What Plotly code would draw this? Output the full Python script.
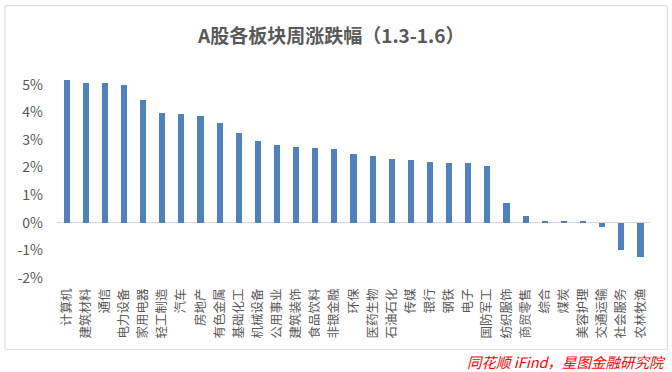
import plotly.graph_objects as go

categories = ["计算机", "建筑材料", "通信", "电力设备", "家用电器", "轻工制造", "汽车", "房地产",
              "有色金属", "基础化工", "机械设备", "公用事业", "建筑装饰", "食品饮料", "非银金融",
              "环保", "医药生物", "石油石化", "传媒", "银行", "钢铁", "电子", "国防军工",
              "纺织服饰", "商贸零售", "综合", "煤炭", "美容护理", "交通运输", "社会服务", "农林牧渔"]
changes_pct = [5.18, 5.07, 5.07, 4.97, 4.46, 3.96, 3.92, 3.88,
               3.60, 3.24, 2.95, 2.81, 2.73, 2.70, 2.66,
               2.48, 2.41, 2.30, 2.27, 2.19, 2.16, 2.16, 2.05,
               0.72, 0.26, 0.04, 0.04, 0.04, -0.17, -0.99, -1.24]
ytick_vals = [-2, -1, 0, 1, 2, 3, 4, 5]
ytick_text = ["-2%", "-1%", "0%", "1%", "2%", "3%", "4%", "5%"]

title_text = "A股各板块周涨跌幅（1.3-1.6）"
source_text = "同花顺 iFind，星图金融研究院"

FONT = "Noto Sans CJK SC, Microsoft YaHei, sans-serif"
GRAY = "#595959"

fig = go.Figure(go.Bar(
    x=categories, y=changes_pct, width=0.32,
    marker=dict(color="#4F81BD", line=dict(width=0)),
))

W, H = 672, 372
L, R, T, B = 56.5, 22.4, 56.5, 93.6
pw, ph = W - L - R, H - T - B

def px_x(x):
    return (x - L) / pw

def px_y(y):
    return (H - B - y) / ph

fig.update_layout(
    width=W, height=H,
    margin=dict(l=L, r=R, t=T, b=B, autoexpand=False),
    paper_bgcolor="white", plot_bgcolor="white",
    showlegend=False,
    bargap=0,
    font=dict(family=FONT, color=GRAY),
    xaxis=dict(
        type="category", range=[-0.5, len(categories) - 0.5],
        tickangle=-90, tickfont=dict(size=12.5, color=GRAY, family=FONT),
        showgrid=False, showline=False, zeroline=False, ticks="",
        ticklabelstandoff=7,
    ),
    yaxis=dict(
        range=[-2, 6], tickvals=ytick_vals, ticktext=ytick_text,
        tickfont=dict(size=14, color=GRAY, family=FONT),
        showgrid=False, showline=False, ticks="",
        zeroline=True, zerolinecolor="#d9d9d9", zerolinewidth=1,
        ticklabelstandoff=13,
    ),
    shapes=[dict(type="rect", xref="paper", yref="paper",
                 x0=px_x(4.5), x1=px_x(667), y0=px_y(350), y1=px_y(5),
                 line=dict(color="#d9d9d9", width=1), fillcolor="rgba(0,0,0,0)",
                 layer="below")],
    annotations=[
        dict(text="<b>" + title_text + "</b>", xref="paper", yref="paper",
             x=px_x(330), y=px_y(34), xanchor="center", yanchor="middle",
             showarrow=False, font=dict(size=19, color=GRAY, family=FONT)),
        dict(text="<i>" + source_text + "</i>", xref="paper", yref="paper",
             x=px_x(668), y=px_y(362), xanchor="right", yanchor="middle",
             showarrow=False, font=dict(size=14.5, color="#FF0000", family=FONT)),
    ],
)

fig.write_html("out.html", config={"displayModeBar": False},
               post_script="document.body.style.margin='0';document.body.style.overflow='hidden';")
